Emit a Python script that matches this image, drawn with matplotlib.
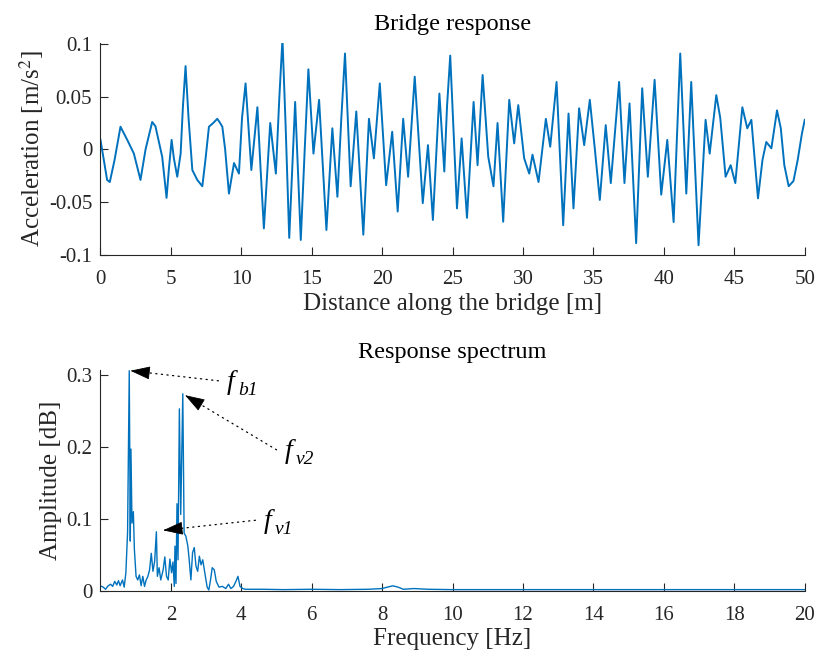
import matplotlib
matplotlib.use("Agg")
import matplotlib.pyplot as plt

plt.rcParams["font.family"] = ["Liberation Serif", "DejaVu Serif"]
plt.rcParams["mathtext.fontset"] = "stix"
plt.rcParams["axes.unicode_minus"] = False

# Bridge acceleration vs. distance (peaks, troughs and a few shoulders of the record)
dist = [0.0, 0.47, 0.66, 1.0, 1.42, 1.9, 2.37, 2.84, 3.2, 3.67, 3.9, 4.1, 4.38, 4.69, 4.86,
        5.05, 5.21, 5.45, 5.69, 5.85, 6.04, 6.25, 6.52, 6.87, 7.23, 7.45, 7.7, 8.0, 8.29,
        8.45, 8.65, 8.85, 9.12, 9.48, 9.83, 10.05, 10.3, 10.71, 11.14, 11.37, 11.6, 12.05,
        12.45, 12.7, 12.92, 13.15, 13.4, 13.82, 14.22, 14.5, 14.76, 15.12, 15.52, 16.04,
        16.46, 16.82, 17.1, 17.36, 17.76, 18.16, 18.66, 19.06, 19.41, 19.83, 20.28, 20.71,
        21.1, 21.49, 21.84, 22.31, 22.88, 23.25, 23.6, 24.06, 24.41, 24.6, 24.83, 25.31,
        25.64, 26.02, 26.49, 26.77, 27.13, 27.53, 27.9, 28.19, 28.59, 29.02, 29.37, 29.66,
        30.08, 30.44, 30.67, 31.1, 31.62, 31.93, 32.38, 32.85, 33.23, 33.58, 33.98, 34.34,
        34.74, 35.1, 35.45, 35.87, 36.23, 36.82, 37.2, 37.56, 38.03, 38.46, 38.86, 39.34,
        39.81, 40.24, 40.69, 40.95, 41.16, 41.59, 41.94, 42.46, 42.96, 43.25, 43.72, 44.0,
        44.38, 44.74, 45.07, 45.57, 45.92, 46.21, 46.68, 47.0, 47.27, 47.63, 48.03, 48.3,
        48.55, 48.86, 49.2, 49.5, 49.8, 50.0]
accel = [0.009, -0.029, -0.031, -0.01, 0.0215, 0.009, -0.004, -0.029, 0.0, 0.026, 0.022,
         0.01, -0.007, -0.046, -0.018, 0.009, -0.0085, -0.026, -0.004, 0.04, 0.079, 0.03,
         -0.0196, -0.029, -0.035, -0.01, 0.0215, 0.025, 0.029, 0.026, 0.0215, 0.0, -0.042,
         -0.013, -0.023, 0.03, 0.0626, -0.0196, 0.04, -0.0196, -0.075, 0.025, -0.023, 0.05,
         0.105, 0.02, -0.084, 0.045, -0.086, 0.0, 0.076, -0.004, 0.047, -0.0765, 0.02,
         -0.045, 0.03, 0.091, -0.035, 0.036, -0.081, 0.029, -0.0085, 0.0626, -0.034, 0.0167,
         -0.059, 0.029, -0.026, 0.069, -0.051, 0.004, -0.067, 0.053, -0.021, 0.04, 0.089,
         -0.056, 0.0104, -0.065, 0.045, -0.015, 0.0706, -0.007, -0.035, 0.025, -0.0687,
         0.047, 0.0057, 0.042, -0.0085, -0.023, -0.005, -0.031, 0.029, 0.0025, 0.064, -0.072,
         0.034, -0.056, 0.039, 0.004, 0.047, 0.0, -0.048, 0.023, -0.032, 0.064, -0.032,
         0.0436, -0.089, 0.058, -0.026, 0.066, -0.043, 0.009, -0.069, 0.02, 0.091, -0.042,
         0.064, -0.091, 0.028, -0.004, 0.0515, 0.03, -0.026, -0.015, -0.032, 0.04, 0.02,
         0.028, -0.0465, -0.01, 0.007, 0.001, 0.037, 0.02, -0.015, -0.035, -0.03, -0.01,
         0.015, 0.028]

# Amplitude spectrum
freq = [0.0, 0.077, 0.144, 0.212, 0.288, 0.346, 0.404, 0.462, 0.51, 0.558, 0.625, 0.673,
        0.721, 0.769, 0.817, 0.846, 0.865, 0.894, 0.933, 0.962, 1.01, 1.058, 1.106, 1.154,
        1.202, 1.25, 1.298, 1.346, 1.394, 1.442, 1.49, 1.538, 1.587, 1.615, 1.663, 1.712,
        1.779, 1.827, 1.875, 1.923, 1.971, 2.019, 2.058, 2.096, 2.115, 2.144, 2.173, 2.202,
        2.24, 2.279, 2.337, 2.375, 2.423, 2.481, 2.519, 2.567, 2.615, 2.663, 2.712, 2.76,
        2.808, 2.856, 2.904, 2.962, 3.029, 3.077, 3.125, 3.173, 3.231, 3.288, 3.365, 3.462,
        3.558, 3.635, 3.702, 3.779, 3.846, 3.904, 3.962, 4.038, 4.115,
        4.6, 5.2, 6.0, 6.8, 7.6, 8.0, 8.15, 8.3, 8.45, 8.6, 8.9, 9.3, 10.0, 11.0, 12.0,
        13.0, 14.0, 15.0, 16.0, 17.0, 18.0, 19.0, 20.0]
amp = [0.0066, 0.005, 0.002, 0.0066, 0.009, 0.006, 0.013, 0.008, 0.014, 0.007, 0.015, 0.005,
       0.025, 0.081, 0.306, 0.069, 0.197, 0.094, 0.11, 0.058, 0.02, 0.015, 0.022, 0.007,
       0.02, 0.006, 0.015, 0.02, 0.029, 0.052, 0.027, 0.041, 0.082, 0.02, 0.032, 0.015,
       0.029, 0.047, 0.02, 0.015, 0.044, 0.025, 0.04, 0.006, 0.062, 0.01, 0.121, 0.043,
       0.253, 0.106, 0.274, 0.08, 0.076, 0.062, 0.043, 0.015, 0.053, 0.06, 0.034, 0.027,
       0.048, 0.036, 0.043, 0.025, 0.005, 0.001, 0.015, 0.032, 0.029, 0.013, 0.005, 0.006,
       0.003, 0.009, 0.003, 0.006, 0.013, 0.02, 0.006, 0.003, 0.002,
       0.002, 0.0015, 0.002, 0.0015, 0.002, 0.003, 0.005, 0.0068, 0.005, 0.002, 0.003,
       0.002, 0.0015, 0.0015, 0.0015, 0.0015, 0.0015, 0.0015, 0.0015, 0.0015, 0.0015,
       0.0015, 0.0015]

# Labelled peaks: subscript, arrow tip (on the peak), arrow tail / text position
peak_subs = ["b1", "v2", "v1"]
peak_tips = [(0.85, 0.306), (2.4, 0.272), (1.78, 0.084)]
label_pos = [(3.35, 0.292), (5.0, 0.196), (4.4, 0.098)]

blue = "#0072BD"
grey = "#262626"

fig = plt.figure(figsize=(8.17, 6.57), dpi=100)
ax1 = fig.add_axes([0.123, 0.6123, 0.862, 0.3223])
ax2 = fig.add_axes([0.123, 0.1009, 0.862, 0.3359])

for ax in (ax1, ax2):
    for side in ("top", "right"):
        ax.spines[side].set_visible(False)
    for side in ("left", "bottom"):
        ax.spines[side].set_color(grey)
        ax.spines[side].set_linewidth(0.8)
    ax.tick_params(direction="in", length=6, width=0.8, colors=grey, labelsize=15,
                   labelcolor=grey)
    ax.tick_params(axis="x", pad=11)
    ax.tick_params(axis="y", pad=6)

# Top: acceleration along the bridge
ax1.plot(dist, accel, color=blue, lw=1.4)
ax1.set_xlim(0, 50)
ax1.set_ylim(-0.1, 0.101)
ax1.set_xticks(range(0, 51, 5))
ax1.set_yticks([-0.1, -0.05, 0, 0.05, 0.1])
ax1.set_yticklabels(["-0.1", "-0.05", "0", "0.05", "0.1"])
ax1.set_title("Bridge response", fontsize=17.5, pad=9)
ax1.set_xlabel("Distance along the bridge [m]", fontsize=18, color=grey, labelpad=3)
ax1.set_ylabel("Acceleration [m/s$^2$]", fontsize=18, color=grey, labelpad=2)

# Bottom: spectrum
ax2.plot(freq, amp, color=blue, lw=1.0)
ax2.set_xlim(0, 20)
ax2.set_ylim(0, 0.307)
ax2.set_xticks(range(2, 21, 2))
ax2.set_yticks([0, 0.1, 0.2, 0.3])
ax2.set_yticklabels(["0", "0.1", "0.2", "0.3"])
ax2.set_title("Response spectrum", fontsize=17.5, pad=9)
ax2.set_xlabel("Frequency [Hz]", fontsize=18, color=grey, labelpad=2)
ax2.set_ylabel("Amplitude [dB]", fontsize=18, color=grey, labelpad=3)

for sub, tip, pos in zip(peak_subs, peak_tips, label_pos):
    # dotted shaft
    ax2.annotate("", xy=tip, xytext=pos,
                 arrowprops=dict(arrowstyle="-", linestyle=(0, (1, 3.5)),
                                 color="k", lw=0.9, shrinkA=0, shrinkB=0))
    # solid head at the peak end
    head_start = (tip[0] + 0.12 * (pos[0] - tip[0]), tip[1] + 0.12 * (pos[1] - tip[1]))
    ax2.annotate("", xy=tip, xytext=head_start,
                 arrowprops=dict(arrowstyle="-|>,head_length=0.9,head_width=0.3",
                                 mutation_scale=14, color="k", lw=0.6,
                                 shrinkA=0, shrinkB=0))
    ax2.annotate("f", xy=pos, xytext=(6, -1), textcoords="offset points",
                 fontsize=20, style="italic", ha="left", va="center")
    ax2.annotate(sub, xy=pos, xytext=(14, -7), textcoords="offset points",
                 fontsize=14, style="italic", ha="left", va="center")

fig.savefig("out.png", dpi=100)
